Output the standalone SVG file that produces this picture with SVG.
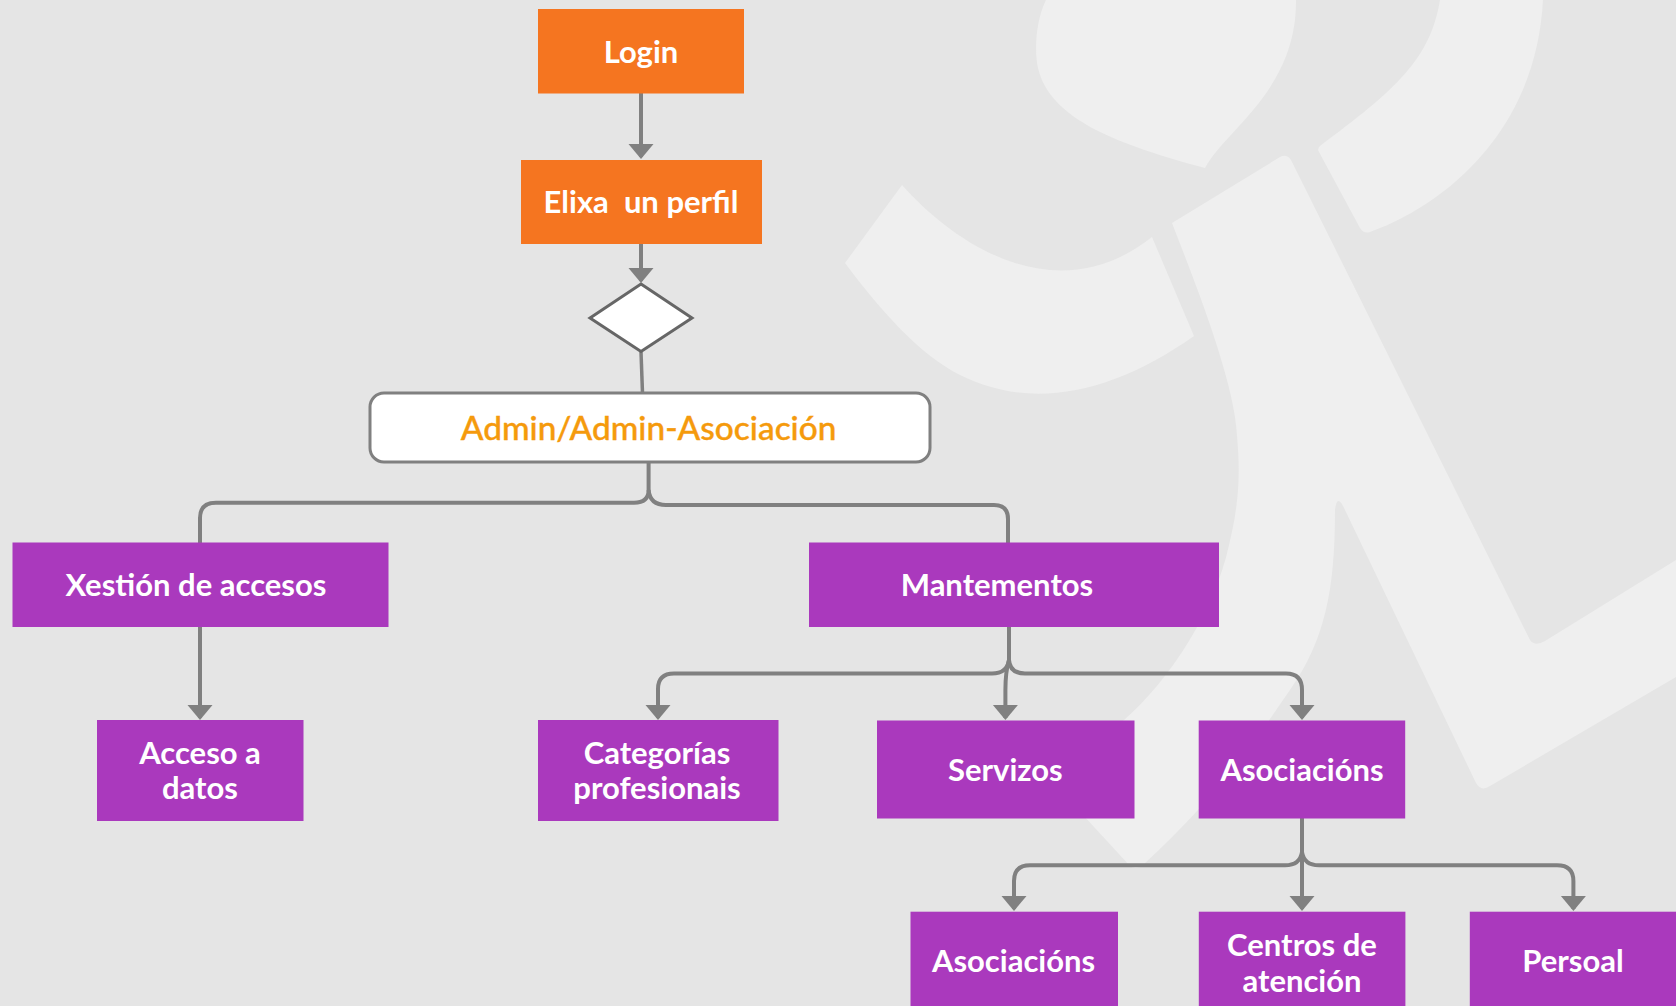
<svg xmlns="http://www.w3.org/2000/svg" width="1676" height="1006" viewBox="0 0 1676 1006">
<style>
.wm{fill:#efefef}
.o{fill:#f57520}
.p{fill:#aa39bd}
.t{font-family:Lato,"Liberation Sans",sans-serif;font-weight:700;font-size:31px;fill:#fff;text-anchor:middle;white-space:pre}
.c{fill:none;stroke:#808080;stroke-width:4}
.c2{fill:none;stroke:#808080;stroke-width:3.5}
</style>
<defs>
<marker id="a" markerUnits="userSpaceOnUse" markerWidth="26" markerHeight="26" viewBox="0 0 16 26" refX="13" refY="13" orient="auto">
<path d="M0,0.5 L15,13 L0,25.5 Z" fill="#808080"/>
</marker>
</defs>
<rect width="1676" height="1006" fill="#e5e5e5"/>
<g id="watermark">
<path class="wm" d="M1046,0 C1036,20 1034,50 1038,68 C1050,120 1120,145 1205,168 C1225,130 1297,90 1296,0 Z"/>
<path class="wm" d="M1440,0 C1430,60 1395,90 1320,146 Q1317,149 1319,152 L1360,228 Q1364,234 1370,232 C1420,215 1535,150 1543,0 Z"/>
<path class="wm" d="M902,185 C960,250 1060,310 1152,237 L1194,336 C1110,395 1030,410 960,375 C920,355 880,310 845,263 Z"/>
<path class="wm" d="M1172,223 L1280,157 Q1288,153 1292,162 L1530,640 Q1535,647 1545,641 L1676,560 V677 L1490,786 Q1481,792 1476,783 L1345,510 Q1337,492 1335,510 C1335,590 1325,640 1290,690 C1265,725 1230,785 1142,866 Q1136,870 1130,866 L1060,790 L1124,720 C1170,680 1215,610 1229,545 C1240,500 1240,470 1237,436 C1235,380 1190,270 1172,223 Z"/>
</g>
<g id="connectors">
<path class="c" marker-end="url(#a)" d="M641,93 V157"/>
<path class="c" marker-end="url(#a)" d="M641,243 V281"/>
<path class="c2" d="M641,352 L642.5,393"/>
<path class="c" d="M648.6,462 V490 Q648.6,502.7 634,502.7 H216 Q200,502.7 200,518 V543"/>
<path class="c" d="M648.6,490 Q650,505 666,505 H994 Q1008,505 1008,519 V543"/>
<path class="c" marker-end="url(#a)" d="M200,626 V718"/>
<path class="c" d="M1009,627 V660 Q1007,673.5 992,673.5 H674 Q658,673.5 658,689 V700"/>
<path class="c" marker-end="url(#a)" d="M658,690 V718"/>
<path class="c" marker-end="url(#a)" d="M1009,660 Q1005.4,672 1005.4,690 V718"/>
<path class="c" marker-end="url(#a)" d="M1009,660 Q1010,673.5 1025,673.5 H1286 Q1302,673.5 1302,690 V718"/>
<path class="c" marker-end="url(#a)" d="M1302,817 V909"/>
<path class="c" marker-end="url(#a)" d="M1302,852 Q1300,865.3 1285,865.3 H1030 Q1014,865.3 1014,881 V909"/>
<path class="c" marker-end="url(#a)" d="M1302,852 Q1304,865.3 1319,865.3 H1557 Q1573.4,865.3 1573.4,881 V909"/>
</g>
<g id="login"><rect class="o" x="538" y="9" width="206" height="84.500"/><text class="t" x="641" y="63">Login</text></g>
<g id="elixa"><rect class="o" x="521" y="160" width="241" height="84"/><text class="t" x="641" y="213">Elixa  un perfil</text></g>
<g id="decision"><path d="M641,284 L692,318 L641,351.500 L590,318 Z" fill="#fff" stroke="#666" stroke-width="3"/></g>
<g id="admin"><rect x="370" y="393" width="560" height="69" rx="14" fill="#fff" stroke="#808080" stroke-width="3"/><text x="648.600" y="440" text-anchor="middle" font-family="Lato,'Liberation Sans',sans-serif" font-weight="500" font-size="33.400" fill="#f59a0c" stroke="#f59a0c" stroke-width="0.4">Admin/Admin-Asociación</text></g>
<g id="xestion"><rect class="p" x="12.500" y="542.500" width="376" height="84.500"/><text class="t" x="196" y="596">Xestión de accesos</text></g>
<g id="mantementos"><rect class="p" x="809" y="542.500" width="410" height="84.500"/><text class="t" x="997" y="596">Mantementos</text></g>
<g id="acceso"><rect class="p" x="97" y="720" width="206.500" height="101"/><text class="t" x="200" y="764">Acceso a</text><text class="t" x="200" y="799">datos</text></g>
<g id="categorias"><rect class="p" x="538" y="720" width="240.500" height="101"/><text class="t" x="657" y="764">Categorías</text><text class="t" x="657" y="799">profesionais</text></g>
<g id="servizos"><rect class="p" x="877" y="720.500" width="257.500" height="98"/><text class="t" x="1005.400" y="781">Servizos</text></g>
<g id="asociacions1"><rect class="p" x="1198.700" y="720.500" width="206.500" height="98"/><text class="t" x="1302" y="781">Asociacións</text></g>
<g id="asociacions2"><rect class="p" x="910.500" y="911.700" width="207.500" height="94.300"/><text class="t" x="1013.500" y="972">Asociacións</text></g>
<g id="centros"><rect class="p" x="1198.800" y="911.700" width="206.600" height="94.300"/><text class="t" x="1302" y="956">Centros de</text><text class="t" x="1302" y="992">atención</text></g>
<g id="persoal"><rect class="p" x="1469.800" y="911.700" width="206.200" height="94.300"/><text class="t" x="1573" y="972">Persoal</text></g>
</svg>
